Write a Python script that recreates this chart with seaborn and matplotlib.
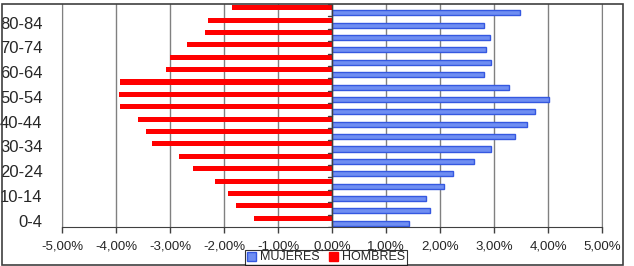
import numpy as np
import pandas as pd
import seaborn as sns
import matplotlib
matplotlib.use("Agg")
from matplotlib import pyplot as plt
from matplotlib.patches import Rectangle, Patch
from matplotlib.ticker import FuncFormatter

# age groups from youngest to oldest
grupos = ["0-4", "5-9", "10-14", "15-19", "20-24", "25-29", "30-34", "35-39",
          "40-44", "45-49", "50-54", "55-59", "60-64", "65-69", "70-74",
          "75-79", "80-84", "85+"]
hombres = [1.45, 1.78, 1.92, 2.16, 2.57, 2.83, 3.33, 3.44, 3.60,
           3.92, 3.95, 3.92, 3.07, 3.00, 2.68, 2.35, 2.29, 1.85]
mujeres = [1.43, 1.82, 1.74, 2.08, 2.24, 2.63, 2.94, 3.39, 3.62,
           3.76, 4.01, 3.27, 2.82, 2.94, 2.86, 2.92, 2.82, 3.48]
xticks = [-5, -4, -3, -2, -1, 0, 1, 2, 3, 4, 5]

rojo = "#ff0000"
azul = "#6f8ef2"
azul_borde = "#3558e0"

df = pd.concat([
    pd.DataFrame({"grupo": grupos, "pct": [-v for v in hombres], "sexo": "HOMBRES"}),
    pd.DataFrame({"grupo": grupos, "pct": mujeres, "sexo": "MUJERES"}),
])
orden = grupos[::-1]
n = len(orden)

sns.set_style("white")
plt.rcParams["font.family"] = ["Liberation Sans", "DejaVu Sans"]

fig = plt.figure(figsize=(6.34, 2.66), dpi=100)
W, H = 634, 266
ax = fig.add_axes([62 / W, (H - 227) / H, (602 - 62) / W, (227 - 4) / H])

sns.barplot(data=df, x="pct", y="grupo", hue="sexo", order=orden,
            hue_order=["HOMBRES", "MUJERES"],
            palette={"HOMBRES": rojo, "MUJERES": azul},
            orient="h", width=0.82, legend=False, ax=ax, saturation=1)

for bar in ax.containers[1]:
    bar.set_edgecolor(azul_borde)
    bar.set_linewidth(1.0)
for bar in ax.containers[0]:
    bar.set_linewidth(0)

ax.set_xlim(-5, 5)
ax.set_xticks(xticks)
ax.xaxis.set_major_formatter(FuncFormatter(lambda v, p: f"{v:.2f}%".replace(".", ",")))
ax.set_xlabel("")
ax.set_ylabel("")
ax.grid(axis="x", color="#808080", linewidth=1.0)
ax.set_axisbelow(True)

# only every other age label
ax.set_yticks(range(n))
ax.set_yticklabels([g if i % 2 == 1 else "" for i, g in enumerate(orden)])
ax.tick_params(axis="y", length=0, pad=14, labelsize=12)
ax.tick_params(axis="x", length=4, width=1, color="#404040", direction="out",
               labelsize=9.5, pad=6, bottom=True)

# tick marks on the central axis
for k in range(n + 1):
    ax.plot([-0.08, 0], [k - 0.5, k - 0.5], color="#404040", linewidth=1, zorder=3)
ax.axvline(0, color="#404040", linewidth=1, zorder=3)
ax.set_ylim(n - 0.5, -0.5)

for s in ["left", "right"]:
    ax.spines[s].set_color("#808080")
ax.spines["top"].set_visible(False)
ax.spines["bottom"].set_color("#404040")

fig.patches.append(Rectangle((2 / W, 1 / H), (623 - 2) / W, (262 - 1) / H,
                             transform=fig.transFigure, fill=False,
                             edgecolor="#404040", linewidth=1.2))

handles = [Patch(facecolor=azul, edgecolor=azul_borde, label="MUJERES"),
           Patch(facecolor=rojo, edgecolor=rojo, label="HOMBRES")]
leg = fig.legend(handles=handles, loc="center", ncol=2,
                 bbox_to_anchor=(326 / W, (H - 257.5) / H), fontsize=9,
                 frameon=True, fancybox=False, edgecolor="black",
                 handlelength=0.7, handleheight=0.7, handletextpad=0.3,
                 columnspacing=0.8, borderpad=0.15, borderaxespad=0)
leg.get_frame().set_linewidth(0.8)

fig.savefig("out.png", dpi=100)
